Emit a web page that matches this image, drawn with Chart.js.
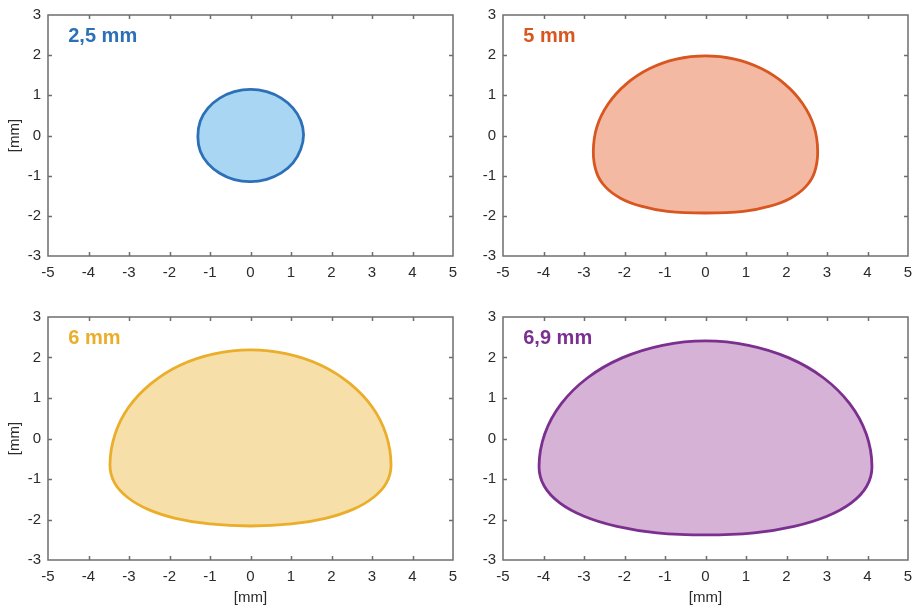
<!DOCTYPE html>
<html>
<head>
<meta charset="utf-8">
<script src="https://cdn.jsdelivr.net/npm/chart.js@4.4.1/dist/chart.umd.min.js"></script>
<style>
  html, body { margin: 0; padding: 0; background: #ffffff; }
  #wrap { position: relative; width: 917px; height: 610px; overflow: hidden; }
  .panel { position: absolute; }
</style>
</head>
<body>
<div id="wrap">
  <canvas id="p1" class="panel" width="458" height="300" style="left:0px;top:0px;width:458px;height:300px"></canvas>
  <canvas id="p2" class="panel" width="458" height="300" style="left:455px;top:0px;width:458px;height:300px"></canvas>
  <canvas id="p3" class="panel" width="458" height="308" style="left:0px;top:302px;width:458px;height:308px"></canvas>
  <canvas id="p4" class="panel" width="458" height="308" style="left:455px;top:302px;width:458px;height:308px"></canvas>
</div>
<script>
// Cross-section outlines (mm), traced as closed loops starting at the top point
// and running counter-clockwise (left side first).
const panelNames = ['2,5 mm', '5 mm', '6 mm', '6,9 mm'];

const outline25X = [0.00, -0.40, -0.76, -1.05, -1.24, -1.30, -1.24, -1.05, -0.76, -0.40, 0.00, 0.40, 0.76, 1.05, 1.24, 1.31, 1.24, 1.05, 0.76, 0.40, 0.00];
const outline25Y = [1.15, 1.09, 0.93, 0.68, 0.36, -0.03, -0.39, -0.70, -0.94, -1.10, -1.15, -1.09, -0.93, -0.68, -0.34, 0.02, 0.37, 0.68, 0.93, 1.09, 1.15];

const outline5X = [0.00, -0.72, -1.39, -1.96, -2.40, -2.68, -2.77, -2.69, -2.47, -2.10, -1.59, -0.94, 0.00, 0.94, 1.59, 2.10, 2.47, 2.69, 2.77, 2.68, 2.40, 1.96, 1.39, 0.72, 0.00];
const outline5Y = [1.98, 1.90, 1.66, 1.28, 0.79, 0.22, -0.40, -0.92, -1.28, -1.56, -1.76, -1.89, -1.93, -1.89, -1.76, -1.56, -1.28, -0.92, -0.40, 0.22, 0.79, 1.28, 1.66, 1.90, 1.98];

const outline6X = [0.00, -0.90, -1.74, -2.45, -3.01, -3.35, -3.47, -3.36, -3.04, -2.53, -1.85, -1.01, 0.00, 1.01, 1.85, 2.53, 3.04, 3.36, 3.47, 3.35, 3.01, 2.45, 1.74, 0.90, 0.00];
const outline6Y = [2.19, 2.09, 1.81, 1.36, 0.77, 0.09, -0.65, -1.09, -1.45, -1.75, -1.97, -2.11, -2.16, -2.11, -1.97, -1.75, -1.45, -1.09, -0.65, 0.09, 0.77, 1.36, 1.81, 2.09, 2.19];

const outline69X = [0.00, -1.06, -2.06, -2.91, -3.56, -3.97, -4.11, -3.98, -3.60, -3.00, -2.19, -1.20, 0.00, 1.20, 2.19, 3.00, 3.60, 3.98, 4.11, 3.97, 3.56, 2.91, 2.06, 1.06, 0.00];
const outline69Y = [2.41, 2.30, 1.99, 1.50, 0.86, 0.11, -0.69, -1.18, -1.59, -1.92, -2.17, -2.33, -2.38, -2.33, -2.17, -1.92, -1.59, -1.18, -0.69, 0.11, 0.86, 1.50, 1.99, 2.30, 2.41];

const xTickValues = [-5, -4, -3, -2, -1, 0, 1, 2, 3, 4, 5];
const yTickValues = [-3, -2, -1, 0, 1, 2, 3];
const axisTitle = '[mm]';

const FONT = "'Liberation Sans', Arial, Helvetica, sans-serif";
const TEXT = '#2b2b2b';
const AXIS = '#6e6e6e';

// Box around the plot area with short inward tick marks on all four sides,
// plus the panel caption in the upper-left corner.
const framePlugin = {
  id: 'frame',
  afterDatasetsDraw(chart, args, opts) {
    const { ctx, chartArea: a, scales: { x, y } } = chart;
    ctx.save();
    ctx.strokeStyle = AXIS;
    ctx.lineWidth = 1.5;
    ctx.strokeRect(a.left, a.top, a.right - a.left, a.bottom - a.top);
    const len = 4;
    ctx.beginPath();
    x.ticks.forEach(t => {
      const p = Math.round(x.getPixelForValue(t.value)) + 0.5;
      if (p <= a.left + 2 || p >= a.right - 2) return;
      ctx.moveTo(p, a.bottom); ctx.lineTo(p, a.bottom - len);
      ctx.moveTo(p, a.top); ctx.lineTo(p, a.top + len);
    });
    y.ticks.forEach(t => {
      const p = Math.round(y.getPixelForValue(t.value)) + 0.5;
      if (p <= a.top + 2 || p >= a.bottom - 2) return;
      ctx.moveTo(a.left, p); ctx.lineTo(a.left + len, p);
      ctx.moveTo(a.right, p); ctx.lineTo(a.right - len, p);
    });
    ctx.stroke();

    // caption
    ctx.fillStyle = opts.color;
    ctx.font = 'bold 20px ' + FONT;
    ctx.textAlign = 'left';
    ctx.textBaseline = 'middle';
    ctx.fillText(opts.text, x.getPixelForValue(-4.5), y.getPixelForValue(2.47));
    ctx.restore();
  }
};

// The closed outline is padded with two wrap-around points on each end so the
// smoothed curve has real neighbours at the seam; those padding segments are
// left unstroked.
function closedLoop(xs, ys) {
  const open = xs.slice(0, -1).map((v, i) => ({ x: v, y: ys[i] }));
  const n = open.length;
  return {
    n,
    points: [open[n - 2], open[n - 1], ...open, open[0], open[1], open[2]]
  };
}

function makePanel(id, xs, ys, name, stroke, fillColor, showX, showY, canvasH) {
  const loop = closedLoop(xs, ys);
  const xAxisH = canvasH === 308 ? 50 : 44;
  new Chart(document.getElementById(id), {
    type: 'line',
    data: {
      datasets: [{
        data: loop.points,
        borderColor: stroke,
        backgroundColor: fillColor,
        borderWidth: 2.8,
        fill: 'shape',
        tension: 0.4,
        pointRadius: 0,
        pointHoverRadius: 0,
        segment: {
          borderColor: c => (c.p0DataIndex < 2 || c.p0DataIndex > loop.n + 1) ? 'rgba(0,0,0,0)' : undefined
        }
      }]
    },
    options: {
      responsive: false,
      animation: false,
      devicePixelRatio: 1,
      events: [],
      layout: { padding: { top: 15, right: 5, left: 0, bottom: 0 } },
      plugins: {
        legend: { display: false },
        tooltip: { enabled: false },
        frame: { text: name, color: stroke }
      },
      scales: {
        x: {
          type: 'linear',
          min: -5, max: 5,
          afterBuildTicks: s => { s.ticks = xTickValues.map(v => ({ value: v })); },
          afterFit: s => { s.height = xAxisH; s.paddingLeft = 0; s.paddingRight = 0; },
          grid: { display: false, drawTicks: false },
          border: { display: false },
          ticks: {
            padding: 8,
            color: TEXT,
            font: { family: FONT, size: 15 },
            maxRotation: 0,
            autoSkip: false,
            callback: v => String(v)
          },
          title: {
            display: showX,
            text: axisTitle,
            color: TEXT,
            font: { family: FONT, size: 15 },
            padding: { top: 0, bottom: 3 }
          }
        },
        y: {
          type: 'linear',
          min: -3, max: 3,
          afterBuildTicks: s => { s.ticks = yTickValues.map(v => ({ value: v })); },
          afterFit: s => { s.width = 48; s.paddingTop = 0; s.paddingBottom = 0; },
          grid: { display: false, drawTicks: false },
          border: { display: false },
          ticks: {
            padding: 7,
            color: TEXT,
            font: { family: FONT, size: 15 },
            autoSkip: false,
            callback: v => String(v)
          },
          title: {
            display: showY,
            text: axisTitle,
            color: TEXT,
            font: { family: FONT, size: 15 },
            padding: { top: 5.5, bottom: 0 }
          }
        }
      }
    },
    plugins: [framePlugin]
  });
}

makePanel('p1', outline25X, outline25Y, panelNames[0], '#2c70b8', '#a9d6f2', false, true, 300);
makePanel('p2', outline5X, outline5Y, panelNames[1], '#d8561f', '#f3b9a2', false, false, 300);
makePanel('p3', outline6X, outline6Y, panelNames[2], '#eaae2b', '#f7dfa9', true, true, 308);
makePanel('p4', outline69X, outline69Y, panelNames[3], '#7b3090', '#d6b2d7', true, false, 308);
</script>
</body>
</html>
